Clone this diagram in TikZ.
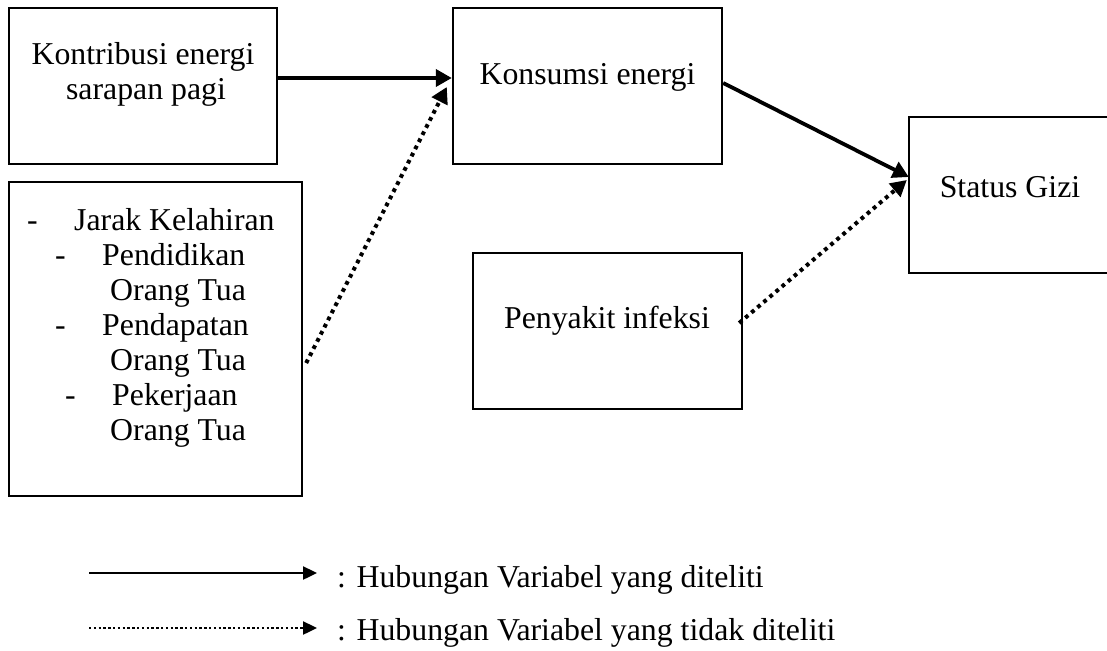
\documentclass[tikz,border=0pt]{standalone}
\usepackage{fontspec}
\setmainfont{Liberation Serif}
\usetikzlibrary{arrows.meta}
\begin{document}
\begin{tikzpicture}[x=1pt,y=-1pt,
  box/.style={draw,line width=2.4pt,inner sep=0pt},
  txt/.style={inner sep=0pt,font=\fontsize{31.8}{35}\selectfont},
  solidarrow/.style={line width=3.8pt,-{Triangle[length=16pt,width=17pt]}},
  dotarrow/.style={line width=4pt,dash pattern=on 3.8pt off 4.2pt,-{Triangle[length=16pt,width=17pt]}},
  legsolid/.style={line width=2.4pt,-{Triangle[length=14pt,width=13pt]}},
  legdot/.style={line width=2.4pt,dash pattern=on 2.4pt off 2.4pt,-{Triangle[length=14pt,width=13pt]}}
]
\useasboundingbox (0,0) rectangle (1107,650);
\fill[white] (0,0) rectangle (1107,650);

% boxes
\node[box,minimum width=268pt,minimum height=156pt] (A) at (143,86) {};
\node[box,minimum width=293pt,minimum height=314pt] (B) at (155.5,339) {};
\node[box,minimum width=269pt,minimum height=156pt] (C) at (587.5,86) {};
\node[box,minimum width=202pt,minimum height=156pt] (D) at (1010,195) {};
\node[box,minimum width=269pt,minimum height=156pt] (E) at (607.5,331) {};

% texts
\node[txt,anchor=base] (tA1) at (143,65) {Kontribusi energi};
\node[txt,anchor=base] (tA2) at (146,100) {sarapan pagi};
\node[txt,anchor=base] (tC) at (587.5,85) {Konsumsi energi};
\node[txt,anchor=base] (tD) at (1010,197) {Status Gizi};
\node[txt,anchor=base] (tE) at (607,328) {Penyakit infeksi};

\node[txt,anchor=base west] (b1d) at (27,230) {-};
\node[txt,anchor=base west] (b1) at (74,230) {Jarak Kelahiran};
\node[txt,anchor=base west] (b2d) at (55,265) {-};
\node[txt,anchor=base west] (b2) at (102,265) {Pendidikan};
\node[txt,anchor=base west] (b3) at (110,300) {Orang Tua};
\node[txt,anchor=base west] (b4d) at (55,335) {-};
\node[txt,anchor=base west] (b4) at (102,335) {Pendapatan};
\node[txt,anchor=base west] (b5) at (110,370) {Orang Tua};
\node[txt,anchor=base west] (b6d) at (65,405) {-};
\node[txt,anchor=base west] (b6) at (112,405) {Pekerjaan};
\node[txt,anchor=base west] (b7) at (110,440) {Orang Tua};

% connectors
\draw[solidarrow] ([yshift=8pt]A.east) -- ([yshift=8pt]C.west);
\draw[dotarrow] ([xshift=3pt,yshift=-24pt]B.east) -- ([xshift=-5pt,yshift=-1pt]C.west);
\draw[solidarrow] ([yshift=3pt]C.east) -- ([xshift=1pt,yshift=18pt]D.west);
\draw[dotarrow] ([xshift=-4pt,yshift=8pt]E.east) -- ([xshift=-1pt,yshift=15pt]D.west);

% legend
\coordinate (l1s) at (89,573);
\coordinate (l1e) at (317,573);
\coordinate (l2s) at (89,628);
\coordinate (l2e) at (317,628);
\draw[legsolid] (l1s) -- (l1e);
\draw[legdot] (l2s) -- (l2e);
\node[txt,anchor=base west] (leg1) at (337,587) {: Hubungan Variabel yang diteliti};
\node[txt,anchor=base west] (leg2) at (337,640) {: Hubungan Variabel yang tidak diteliti};
\end{tikzpicture}
\end{document}
